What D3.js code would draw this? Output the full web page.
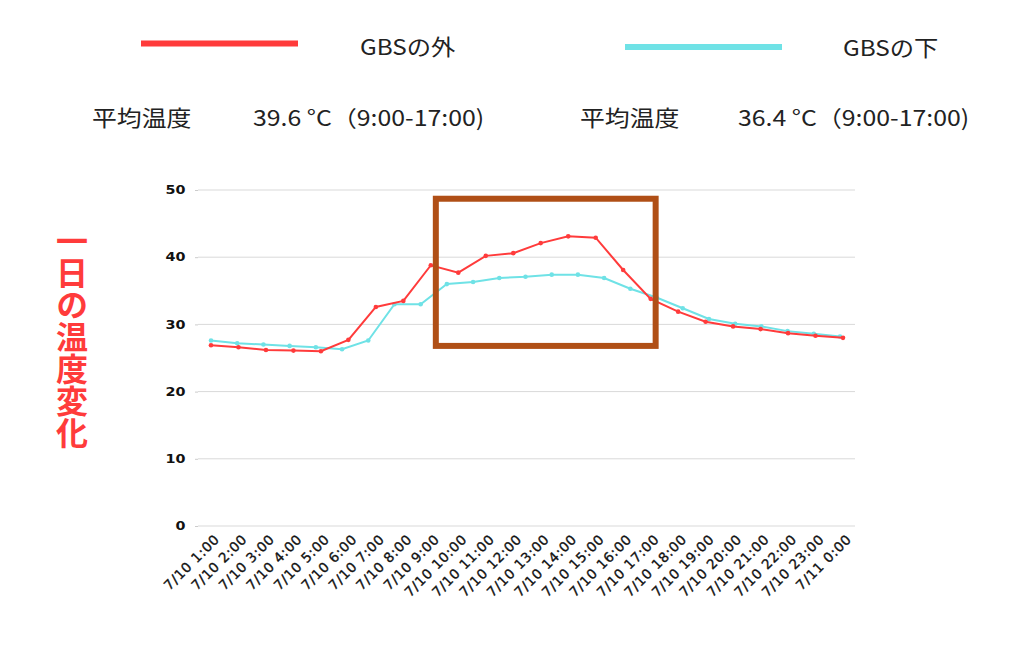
<!DOCTYPE html>
<html>
<head>
<meta charset="utf-8">
<script src="https://cdn.jsdelivr.net/npm/d3@7/dist/d3.min.js"></script>
<style>
  html, body { margin: 0; padding: 0; background: #fff; }
  svg { display: block; }
</style>
</head>
<body>
<svg id="chart" width="1024" height="645"></svg>
<script>
// ---- data ----
const timeLabels = ["7/10 1:00","7/10 2:00","7/10 3:00","7/10 4:00","7/10 5:00","7/10 6:00","7/10 7:00","7/10 8:00","7/10 9:00","7/10 10:00","7/10 11:00","7/10 12:00","7/10 13:00","7/10 14:00","7/10 15:00","7/10 16:00","7/10 17:00","7/10 18:00","7/10 19:00","7/10 20:00","7/10 21:00","7/10 22:00","7/10 23:00","7/11 0:00"];
const outsideValues = [26.9,26.6,26.2,26.1,26.0,27.7,32.6,33.5,38.8,37.7,40.2,40.6,42.1,43.1,42.9,38.1,33.8,31.9,30.4,29.7,29.3,28.7,28.3,28.0];
// the under-GBS trace has 25 readings spread over the same span
const underValues = [27.6,27.2,27.0,26.8,26.6,26.3,27.6,33.0,33.0,36.0,36.3,36.9,37.1,37.4,37.4,36.9,35.3,34.0,32.4,30.8,30.1,29.7,29.0,28.6,28.2];
const yTicks = [0,10,20,30,40,50];
const seriesNames = ["GBSの外","GBSの下"];
const avgLabel = "平均温度";
const avgTexts = ["39.6 °C（9:00-17:00)","36.4 °C（9:00-17:00)"];
const yTitle = "一日の温度変化";
const highlight = {from: "7/10 9:00", to: "7/10 17:00", low: 26.8, high: 48.7};

// ---- style ----
const RED = "#ff3b3b", CYAN = "#6fe2e6", BOX = "#b04f16";
const cjk = "'Noto Sans CJK JP','Noto Sans',sans-serif";
const SX = 1.13; // horizontal stretch of the header texts

const svg = d3.select("#chart");

const y = d3.scaleLinear().domain([0, 50]).range([526, 190]);
const x = d3.scalePoint().domain(timeLabels).range([211, 843]);
const xu = d3.scalePoint().domain(d3.range(underValues.length)).range([211, 840]);

// gridlines
svg.append("g").selectAll("line").data(yTicks).join("line")
  .attr("x1", 198).attr("x2", 855)
  .attr("y1", d => y(d)).attr("y2", d => y(d))
  .attr("stroke", "#d9d9d9").attr("stroke-width", 1);

// y axis
const yAxis = d3.axisLeft(y).tickValues(yTicks).tickSize(3).tickPadding(0);
const gy = svg.append("g").attr("transform", "translate(198,0)").call(yAxis);
gy.select(".domain").remove();
gy.selectAll(".tick line").attr("stroke", "#ccc");
gy.selectAll(".tick text")
  .attr("x", -10)
  .attr("transform", "scale(1.25,1)")
  .attr("font-family", "'DejaVu Sans',sans-serif").attr("font-weight", "bold")
  .attr("font-size", 11.5).attr("fill", "#111");

// x axis
const xAxis = d3.axisBottom(x).tickSize(0).tickPadding(0);
const gx = svg.append("g").attr("transform", "translate(0,526)").call(xAxis);
gx.select(".domain").remove();
gx.selectAll(".tick text")
  .attr("font-family", "'DejaVu Sans',sans-serif")
  .attr("font-size", 13.5).attr("fill", "#111")
  .attr("stroke", "#111").attr("stroke-width", 0.35)
  .attr("letter-spacing", 0.8)
  .attr("text-anchor", "end")
  .attr("dy", 0)
  .attr("transform", "translate(9,14) rotate(-45)");

// lines
const lineOut = d3.line().x((d, i) => x(timeLabels[i])).y(d => y(d));
const lineUnder = d3.line().x((d, i) => xu(i)).y(d => y(d));

svg.append("path").datum(underValues).attr("d", lineUnder)
  .attr("fill", "none").attr("stroke", CYAN).attr("stroke-width", 2);
svg.append("g").selectAll("circle").data(underValues).join("circle")
  .attr("cx", (d, i) => xu(i)).attr("cy", d => y(d)).attr("r", 2.3).attr("fill", CYAN);

svg.append("path").datum(outsideValues).attr("d", lineOut)
  .attr("fill", "none").attr("stroke", RED).attr("stroke-width", 2);
svg.append("g").selectAll("circle").data(outsideValues).join("circle")
  .attr("cx", (d, i) => x(timeLabels[i])).attr("cy", d => y(d)).attr("r", 2.3).attr("fill", RED);

// highlight box
svg.append("rect")
  .attr("x", x(highlight.from) + 5)
  .attr("y", y(highlight.high))
  .attr("width", x(highlight.to) - x(highlight.from))
  .attr("height", y(highlight.low) - y(highlight.high))
  .attr("fill", "none").attr("stroke", BOX).attr("stroke-width", 6);

// legend
function stretchedText(tx, ty, str, size) {
  return svg.append("text")
    .attr("transform", `translate(${tx},${ty}) scale(${SX},1)`)
    .attr("font-family", cjk).attr("font-size", size).attr("fill", "#222")
    .text(str);
}
const legend = [
  {name: seriesNames[0], color: RED, lx: 141, ly: 43.5, tx: 360, ty: 55, avgX: 92, valX: 253},
  {name: seriesNames[1], color: CYAN, lx: 625, ly: 47, tx: 843, ty: 56, avgX: 580, valX: 738}
];
legend.forEach((l, i) => {
  svg.append("line").attr("x1", l.lx).attr("x2", l.lx + 157)
    .attr("y1", l.ly).attr("y2", l.ly)
    .attr("stroke", l.color).attr("stroke-width", 6);
  stretchedText(l.tx, l.ty, l.name, 21.5);
  stretchedText(l.avgX, 126, avgLabel, 22);
  stretchedText(l.valX, 126, avgTexts[i], 22);
});

// y title (vertical)
svg.append("text")
  .attr("x", 72).attr("y", 337)
  .attr("writing-mode", "vertical-rl")
  .attr("text-anchor", "middle")
  .style("text-orientation", "upright")
  .attr("font-family", cjk).attr("font-weight", "bold")
  .attr("font-size", 32).attr("fill", RED)
  .text(yTitle);
</script>
</body>
</html>
